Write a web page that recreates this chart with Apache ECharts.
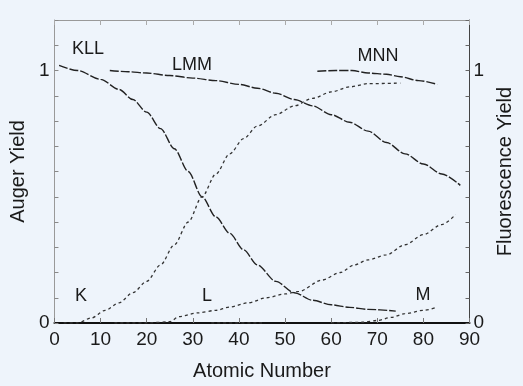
<!DOCTYPE html>
<html>
<head>
<meta charset="utf-8">
<script src="https://cdn.jsdelivr.net/npm/echarts@6/dist/echarts.min.js"></script>
<style>
html,body{margin:0;padding:0;background:#eef4fb;}
#c{width:523px;height:386px;}
</style>
</head>
<body>
<div id="c"></div>
<script>
// Atomic number (x) and yield (y) pairs
const kllAuger = [[1,1.02],[5,1.0],[10,0.965],[14,0.925],[17,0.885],[20,0.835],[23,0.77],[26,0.69],[29,0.6],[32,0.5],[35,0.42],[38,0.355],[41,0.29],[44,0.23],[48,0.165],[52,0.12],[56,0.09],[60,0.072],[64,0.062],[68,0.054],[74,0.047]];
const lmmAuger = [[12,1.0],[16,0.995],[20,0.99],[25,0.98],[30,0.97],[35,0.96],[40,0.945],[44,0.93],[48,0.91],[52,0.885],[56,0.86],[60,0.825],[64,0.795],[68,0.76],[72,0.715],[76,0.67],[80,0.63],[84,0.59],[88,0.545]];
const mnnAuger = [[57,0.997],[61,1.0],[64.5,1.0],[68,0.99],[72,0.985],[75,0.975],[79,0.96],[83,0.945]];
const kFluor = [[2,0],[5,0],[8,0.02],[11,0.05],[14,0.08],[17,0.12],[20,0.165],[23,0.23],[26,0.31],[29,0.4],[32,0.5],[35,0.59],[38,0.67],[41,0.73],[44,0.78],[48,0.825],[52,0.86],[56,0.89],[60,0.915],[64,0.935],[68,0.948],[75,0.95]];
const lFluor = [[13,0],[20,0],[25,0.005],[27,0.025],[31,0.04],[35,0.05],[38,0.063],[42,0.08],[46,0.10],[50,0.115],[53,0.125],[58,0.17],[62,0.2],[65,0.23],[68,0.25],[72,0.27],[76,0.31],[80,0.35],[84,0.39],[87,0.43]];
const mFluor = [[34,0],[45,0],[null,null],[60,0],[67,0.003],[70,0.01],[73,0.022],[76,0.037],[80,0.05],[83,0.063]];
const xTicks = {min:0, max:90, step:10};
const yTicks = {min:0, max:1.2, step:0.1};
const yLabelValues = [0, 1];
const curveLabels = ['KLL','LMM','MNN','K','L','M'];

const FONT = '"Liberation Sans", Arial, Helvetica, sans-serif';
const ink = '#1a1a1a';
const chart = echarts.init(document.getElementById('c'));

function yFmt(v){
  for (const t of yLabelValues) if (Math.abs(v - t) < 1e-6) return String(t);
  return '';
}
const augerStyle = {color:'#222', width:1.4, type:[9,2]};
const fluorStyle = {color:'#333', width:1.3, type:[3,3]};
function line(name, data, style){
  return {name, type:'line', data, smooth:0.3, smoothMonotone:'x', symbol:'none', connectNulls:false,
          lineStyle:style, xAxisIndex:0, yAxisIndex:0, animation:false};
}
const labelPos = [[88,49],[192,65],[378,56],[81,296],[207,296],[423,295]];

chart.setOption({
  backgroundColor:'#eef4fb',
  animation:false,
  grid:{left:52, right:45, top:20, bottom:60, containLabel:false},
  xAxis:[
    {type:'value', position:'bottom', min:xTicks.min, max:xTicks.max, interval:xTicks.step,
     axisLine:{onZero:false, lineStyle:{color:'#111', width:2}},
     axisTick:{inside:true, length:5, lineStyle:{color:'#777'}},
     axisLabel:{fontSize:19, color:ink, fontFamily:FONT, margin:7},
     splitLine:{show:false},
     name:'Atomic Number', nameLocation:'middle', nameGap:38,
     nameTextStyle:{fontSize:20, color:ink, fontFamily:FONT}},
    {type:'value', position:'top', min:xTicks.min, max:xTicks.max, interval:xTicks.step,
     axisLine:{onZero:false, lineStyle:{color:'#999', width:1}},
     axisTick:{inside:true, length:5, lineStyle:{color:'#aaa'}},
     axisLabel:{show:false}, splitLine:{show:false}}
  ],
  yAxis:[
    {type:'value', position:'left', min:yTicks.min, max:yTicks.max, interval:yTicks.step,
     axisLine:{show:true, onZero:false, lineStyle:{color:'#999', width:1}},
     axisTick:{show:true, inside:true, length:4, lineStyle:{color:'#888'}},
     axisLabel:{formatter:yFmt, fontSize:19, color:ink, fontFamily:FONT, margin:5},
     splitLine:{show:false},
     name:'Auger Yield', nameLocation:'middle', nameRotate:90, nameGap:20,
     nameTextStyle:{fontSize:20, color:ink, fontFamily:FONT}},
    {type:'value', position:'right', min:yTicks.min, max:yTicks.max, interval:yTicks.step,
     axisLine:{show:true, onZero:false, lineStyle:{color:'#444', width:1}},
     axisTick:{show:true, inside:true, length:4, lineStyle:{color:'#666'}},
     axisLabel:{formatter:yFmt, fontSize:19, color:ink, fontFamily:FONT, margin:4},
     splitLine:{show:false},
     name:'Fluorescence Yield', nameLocation:'middle', nameRotate:90, nameGap:18,
     nameTextStyle:{fontSize:20, color:ink, fontFamily:FONT}}
  ],
  series:[
    line('KLL', kllAuger, augerStyle),
    line('LMM', lmmAuger, augerStyle),
    line('MNN', mnnAuger, augerStyle),
    line('K', kFluor, fluorStyle),
    line('L', lFluor, fluorStyle),
    line('M', mFluor, fluorStyle)
  ],
  graphic: curveLabels.map((t,i)=>({
    type:'text', x:labelPos[i][0], y:labelPos[i][1], z:10,
    style:{text:t, fill:ink, font:'18px ' + FONT, align:'center', verticalAlign:'middle'}
  }))
});
</script>
</body>
</html>
